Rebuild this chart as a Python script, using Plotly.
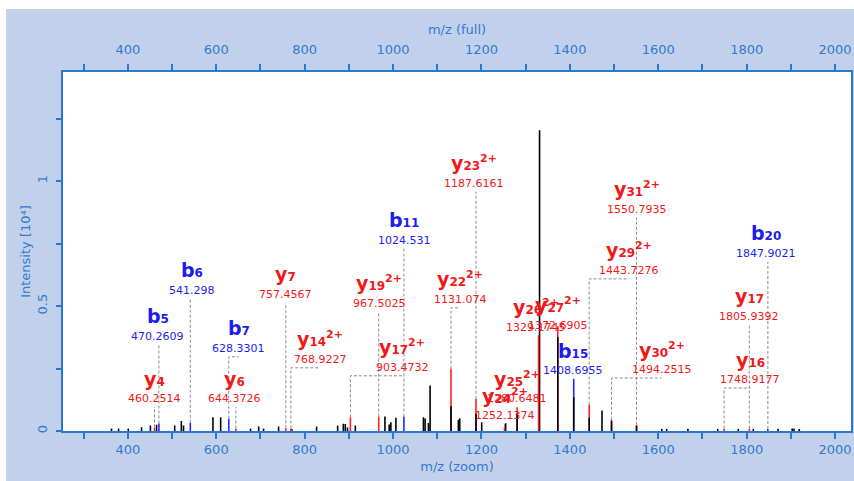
import plotly.graph_objects as go

# ---------------- data ----------------
# unassigned (black) peaks: m/z and intensity [10^4]
peak_mz = [363, 379, 401, 431, 451, 465, 506, 521, 526, 592.5, 610, 677.6, 696, 707, 741,
           771, 827, 874.6, 887.5, 892, 897, 914.6, 981.6, 991.3, 995, 1006.4, 1068.7, 1072.5,
           1080, 1083.8, 1147.7, 1150.8, 1200.5, 1254.7, 1331.4, 1472.7, 1608, 1619, 1667,
           1734.5, 1781, 1815, 1871, 1903, 1907, 1919]
peak_int = [0.010, 0.010, 0.010, 0.015, 0.022, 0.025, 0.022, 0.040, 0.022, 0.055, 0.055, 0.010,
            0.018, 0.010, 0.018, 0.008, 0.018, 0.022, 0.029, 0.028, 0.014, 0.022, 0.058, 0.026,
            0.035, 0.053, 0.055, 0.050, 0.032, 0.182, 0.045, 0.051, 0.035, 0.031, 1.204, 0.082,
            0.009, 0.009, 0.009, 0.009, 0.009, 0.009, 0.009, 0.010, 0.010, 0.008]

# assigned fragment ions
ion_series = ["y", "b", "b", "b", "y", "y", "y", "y", "y", "b", "y", "y", "y", "y", "y", "y",
              "b", "y", "y", "y", "b", "y", "y"]
ion_number = [4, 5, 6, 7, 6, 7, 14, 17, 19, 11, 22, 23, 24, 25, 26, 27, 15, 29, 30, 31, 20, 17, 16]
ion_charge = [1, 1, 1, 1, 1, 1, 2, 2, 2, 1, 2, 2, 2, 2, 2, 2, 1, 2, 2, 2, 1, 1, 1]
ion_mz = [460.2514, 470.2609, 541.298, 628.3301, 644.3726, 757.4567, 768.9227, 903.4732,
          967.5025, 1024.531, 1131.074, 1187.6161, 1252.1374, 1280.6481, 1329.1745, 1372.6905,
          1408.6955, 1443.7276, 1494.2515, 1550.7935, 1847.9021, 1805.9392, 1748.9177]
ion_int = [0.014, 0.030, 0.033, 0.049, 0.010, 0.011, 0.010, 0.055, 0.058, 0.058, 0.249, 0.129,
           0.015, 0.095, 0.383, 0.419, 0.209, 0.106, 0.045, 0.025, 0.008, 0.010, 0.010]
# black (overlapping unassigned) part under the coloured peak
ion_black = [0, 0, 0, 0, 0, 0, 0, 0, 0, 0, 0.100, 0.069, 0, 0.070, 0, 0.375, 0.135, 0.053,
             0.040, 0.020, 0, 0, 0]

# label placement (layout): label centre in m/z, value-text centre in intensity units
lab_x = [460.9, 467.7, 544.4, 650.5, 641.5, 756.6, 835.6, 1020.6, 968.7, 1025.1, 1151.5,
         1183.1, 1253.1, 1280.2, 1323.1, 1372.7, 1406.6, 1532.9, 1607.4, 1551.0, 1844.4,
         1806.0, 1808.3]
lab_y = [0.130, 0.379, 0.563, 0.331, 0.130, 0.547, 0.287, 0.255, 0.511, 0.764, 0.527, 0.992,
         0.062, 0.130, 0.415, 0.423, 0.242, 0.643, 0.246, 0.888, 0.711, 0.459, 0.206]

x_ticks = [400, 600, 800, 1000, 1200, 1400, 1600, 1800, 2000]
y_ticks = [0, 0.5, 1]
y_ticktext = ["0", "0.5", "1"]

# ---------------- style ----------------
W, H = 854, 481
ML, MR, MT, MB = 63, 1, 72, 50
XR = [253.3, 2036]
YR = [0, 1.437]
plot_h = H - MT - MB
px_per_y = plot_h / (YR[1] - YR[0])

AX = "#2a78d2"
AXT = "#3479d2"
RED = "#f01818"
BLUE = "#1c1cf0"
PEAK_RED = "#ff2020"
PEAK_BLUE = "#2424ff"
FONT = "DejaVu Sans"


def col(s):
    return BLUE if s == "b" else RED


def seg(xs, ys):
    X, Y = [], []
    for x, y in zip(xs, ys):
        X += [x, x, None]
        Y += [0, y, None]
    return X, Y


fig = go.Figure()

# black unassigned peaks
X, Y = seg(peak_mz, peak_int)
fig.add_trace(go.Scatter(x=X, y=Y, mode="lines", line=dict(color="black", width=1.6),
                         hoverinfo="skip", showlegend=False))

# coloured assigned peaks
for s, pc in (("y", PEAK_RED), ("b", PEAK_BLUE)):
    xs = [m for m, ser in zip(ion_mz, ion_series) if ser == s]
    ys = [h for h, ser in zip(ion_int, ion_series) if ser == s]
    X, Y = seg(xs, ys)
    fig.add_trace(go.Scatter(x=X, y=Y, mode="lines", line=dict(color=pc, width=1.6),
                             hoverinfo="skip", showlegend=False))

# black part of overlapping peaks
xs = [m for m, b in zip(ion_mz, ion_black) if b > 0]
ys = [b for b in ion_black if b > 0]
X, Y = seg(xs, ys)
fig.add_trace(go.Scatter(x=X, y=Y, mode="lines", line=dict(color="black", width=1.6),
                         hoverinfo="skip", showlegend=False))

# leader lines
LX, LY = [], []
gap = 8.5 / px_per_y
for m, h, lx, ly in zip(ion_mz, ion_int, lab_x, lab_y):
    top = ly - gap
    if top <= h:
        continue
    if abs(lx - m) > 8:
        LX += [m, m, lx, None]
        LY += [h, top, top, None]
    else:
        LX += [m, m, None]
        LY += [h, top, None]
fig.add_trace(go.Scatter(x=LX, y=LY, mode="lines",
                         line=dict(color="#8a8a8a", width=1, dash="3px,2px"),
                         hoverinfo="skip", showlegend=False))

# invisible trace for the top axis
fig.add_trace(go.Scatter(x=XR, y=[0, 0], xaxis="x2", mode="lines",
                         line=dict(width=0, color="rgba(0,0,0,0)"),
                         hoverinfo="skip", showlegend=False))

annotations = []
for s, n, z, m, lx, ly in zip(ion_series, ion_number, ion_charge, ion_mz, lab_x, lab_y):
    c = col(s)
    val = f"{m:.4f}".rstrip("0").rstrip(".")
    annotations.append(dict(x=lx, y=ly, xref="x", yref="y", text=val, showarrow=False,
                            xanchor="center", yanchor="middle",
                            font=dict(family=FONT, size=11, color=c)))
    lab = f"<b>{s}<span style='font-size:12px'>{n}</span>"
    if z > 1:
        lab += f"<sup><span style='font-size:11px'>{z}+</span></sup>"
    lab += "</b>"
    annotations.append(dict(x=lx, y=ly, xref="x", yref="y", text=lab, showarrow=False,
                            xanchor="center", yanchor="middle", yshift=20,
                            font=dict(family=FONT, size=19, color=c)))

fig.update_layout(
    width=W, height=H, autosize=False,
    margin=dict(l=ML, r=MR, t=MT, b=MB, pad=0),
    paper_bgcolor="white",
    plot_bgcolor="rgba(0,0,0,0)",
    font=dict(family=FONT, size=12, color=AXT),
    annotations=annotations,
    shapes=[
        dict(type="rect", xref="paper", yref="paper", layer="below",
             x0=(6 - ML) / (W - ML - MR), x1=(W + 2 - ML) / (W - ML - MR),
             y0=-(MB + 2) / plot_h, y1=(H - MB - 9) / plot_h,
             fillcolor="#c1d1eb", line=dict(width=0)),
        dict(type="rect", xref="paper", yref="paper", layer="below",
             x0=0, x1=1, y0=0, y1=1, fillcolor="white", line=dict(width=0)),
    ],
    xaxis=dict(range=XR, tickvals=x_ticks, ticks="outside", ticklen=6, tickwidth=1.5,
               tickcolor=AX, showline=True, linecolor=AX, linewidth=1.5, mirror=False,
               showgrid=False, zeroline=False,
               minor=dict(dtick=100, tick0=0, ticks="outside", ticklen=6, tickwidth=1.5,
                          tickcolor=AX, showgrid=False),
               tickfont=dict(family=FONT, size=13, color=AXT),
               title=dict(text="m/z (zoom)", font=dict(family=FONT, size=13, color=AXT),
                          standoff=6)),
    xaxis2=dict(range=XR, overlaying="x", side="top", anchor="y", tickvals=x_ticks,
                ticks="outside", ticklen=6, tickwidth=1.5, tickcolor=AX, showline=True,
                linecolor=AX, linewidth=1.5, showgrid=False, zeroline=False,
                ticklabelstandoff=5,
                minor=dict(dtick=100, tick0=0, ticks="outside", ticklen=6, tickwidth=1.5,
                           tickcolor=AX, showgrid=False),
                tickfont=dict(family=FONT, size=13, color=AXT),
                title=dict(text="m/z (full)", font=dict(family=FONT, size=13, color=AXT),
                           standoff=4)),
    yaxis=dict(range=YR, tickvals=y_ticks, ticktext=y_ticktext, tickangle=-90,
               ticks="outside", ticklen=5, tickwidth=1.5, tickcolor=AX, showline=True,
               linecolor=AX, linewidth=1.5, mirror=True, showgrid=False, zeroline=False,
               ticklabelstandoff=4,
               minor=dict(tickvals=[0.25, 0.75, 1.25], ticks="outside", ticklen=5,
                          tickwidth=1.5, tickcolor=AX, showgrid=False),
               tickfont=dict(family=FONT, size=13, color=AXT),
               title=dict(text="Intensity [10⁴]", font=dict(family=FONT, size=13, color=AXT),
                          standoff=1)),
)

fig.write_html("out.html")
